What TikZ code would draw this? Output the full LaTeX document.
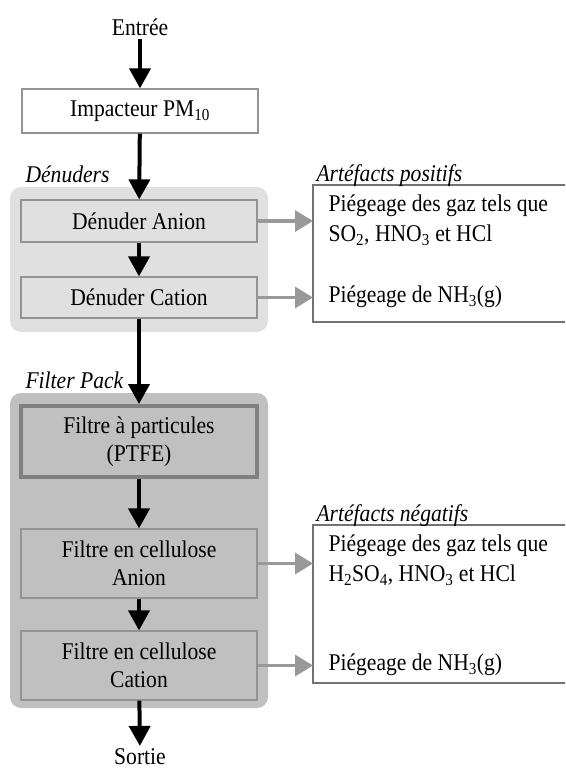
\documentclass[tikz,border=0pt]{standalone}
\usepackage{fontspec}
\setmainfont{Liberation Serif}[FakeStretch=0.9]
\usetikzlibrary{arrows.meta}
\definecolor{lightbg}{HTML}{E0E0E0}
\definecolor{darkbg}{HTML}{C0C0C0}
\definecolor{trapgray}{HTML}{999999}
\begin{document}
\begin{tikzpicture}[x=1pt, y=-1pt,
  every node/.style={font=\fontsize{24}{28}\selectfont},
  flow/.style={line width=4pt, -{Triangle[length=20pt, width=21pt]}},
  trap/.style={line width=3.5pt, draw=trapgray, -{Triangle[length=18pt, width=21pt]}},
  stage/.style={draw=gray!85, line width=1.2pt, minimum width=236pt, inner sep=0pt, align=center},
  result/.style={draw=gray!90!black, line width=1.2pt, fill=white},
  tag/.style={anchor=base west, font=\fontsize{24}{26}\selectfont\itshape}]
    \clip (0, 0) rectangle (565, 771);

    % Groups
    \fill [lightbg, rounded corners=11pt] (10, 187) rectangle (268, 332);
    \fill [darkbg, rounded corners=11pt] (10, 393) rectangle (268, 708);
    \node [tag] (tden) at (22, 182) {Dénuders};
    \node [tag] (tfp) at (22, 388) {Filter Pack};

    % Inlet
    \node (in) at (140, 27) {Entrée};
    \node [stage, fill=white, minimum height=44pt] (imp) at (140, 111) {Impacteur PM\textsubscript{10}};

    % Denuders
    \node [stage, fill=lightbg, minimum height=42pt] (dena) at (139, 221) {Dénuder Anion};
    \node [stage, fill=lightbg, minimum height=41pt] (denc) at (139, 297.5) {Dénuder Cation};

    % Filter pack
    \node [stage, fill=darkbg, draw=gray, line width=4pt, minimum width=236pt, minimum height=71pt]
          (ptfe) at (139, 441.5) {Filtre à particules\\(PTFE)};
    \node [stage, fill=darkbg, minimum height=69pt] (fca) at (139, 563.5) {Filtre en cellulose\\Anion};
    \node [stage, fill=darkbg, minimum height=69pt] (fcc) at (139, 665.5) {Filtre en cellulose\\Cation};
    \node [anchor=base, inner sep=2pt] (out) at (140, 764) {Sortie};

    % Artefacts
    \path [result] (313, 185) rectangle (575, 322);
    \path [result] (313, 525) rectangle (575, 683);
    \path (313, 185) coordinate (pos);
    \path (313, 525) coordinate (neg);
    \node [tag] (tpos) at (313, 181) {Artéfacts positifs};
    \node [tag] (tneg) at (313, 521) {Artéfacts négatifs};
    \node [anchor=west, align=left, font=\fontsize{24}{30}\selectfont] (pos1) at (325, 220)
          {Piégeage des gaz tels que\\SO\textsubscript{2}, HNO\textsubscript{3} et HCl};
    \node [anchor=west] (pos2) at (325, 297) {Piégeage de NH\textsubscript{3}(g)};
    \node [anchor=west, align=left, font=\fontsize{24}{30}\selectfont] (neg1) at (325, 560)
          {Piégeage des gaz tels que\\H\textsubscript{2}SO\textsubscript{4}, HNO\textsubscript{3} et HCl};
    \node [anchor=west] (neg2) at (325, 665) {Piégeage de NH\textsubscript{3}(g)};

    % Connections
    \draw [flow] (in) -- (imp);
    \draw [flow] (imp) -- (dena);
    \draw [flow] (dena) -- (denc);
    \draw [flow] (denc) -- (ptfe);
    \draw [flow] (ptfe) -- (fca);
    \draw [flow] (fca) -- (fcc);
    \draw [flow] (fcc) -- (out);
    \foreach \s/\t in {dena/pos, denc/pos, fca/neg, fcc/neg} {
      \draw [trap] (\s.east) -- (\s.east -| \t);
    }
\end{tikzpicture}
\end{document}
